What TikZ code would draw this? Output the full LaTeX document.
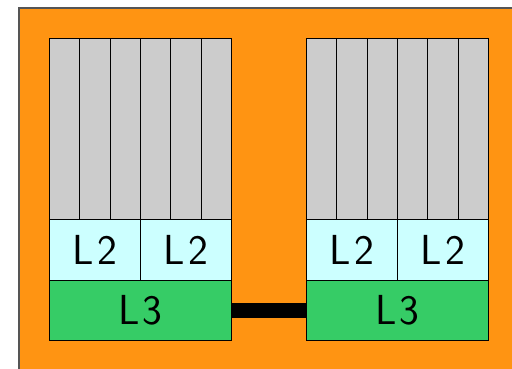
\documentclass[tikz,border=0pt]{standalone}
\usepackage{fontspec}
\usepackage{tikz}
\setsansfont{Latin Modern Sans}[LetterSpace=7]
\definecolor{boardorange}{HTML}{FF9412}
\definecolor{coregray}{HTML}{CCCCCC}
\definecolor{ltwocyan}{HTML}{CCFFFF}
\definecolor{lthreegreen}{HTML}{36CC66}
\definecolor{edgegray}{HTML}{555555}
\tikzset{
  cell/.style={draw=black, line width=0.9pt, inner sep=0pt, anchor=north west},
  corebox/.style={cell, fill=coregray, minimum width=30.33pt, minimum height=181pt},
  ltwobox/.style={cell, fill=ltwocyan, minimum width=91pt, minimum height=61pt,
    font=\sffamily\fontsize{42}{42}\selectfont},
  lthreebox/.style={cell, fill=lthreegreen, minimum width=182pt, minimum height=60pt,
    font=\sffamily\fontsize{42}{42}\selectfont},
  link/.style={line width=15pt, draw=black}
}
\begin{document}
\begin{tikzpicture}[x=1pt, y=-1pt]
  \useasboundingbox (0,0) rectangle (512,368);
  % board
  \fill[white] (0,0) rectangle (512,368);
  \fill[boardorange] (19,8) rectangle (513,369);
  \draw[edgegray, line width=1.2pt] (19,369) -- (19,8) -- (513,8);
  % left chip
  \foreach \i in {0,...,5}
    \node[corebox] (ca\i) at ({49+\i*30.33},38) {};
  \node[ltwobox] (la0) at (49,219) {L2};
  \node[ltwobox] (la1) at (140,219) {L2};
  \node[lthreebox] (ta) at (49,280) {L3};
  % right chip
  \foreach \i in {0,...,5}
    \node[corebox] (cb\i) at ({306+\i*30.33},38) {};
  \node[ltwobox] (lb0) at (306,219) {L2};
  \node[ltwobox] (lb1) at (397,219) {L2};
  \node[lthreebox] (tb) at (306,280) {L3};
  % interconnect between the shared caches
  \draw[link] (ta.east) -- (tb.west);
\end{tikzpicture}
\end{document}
